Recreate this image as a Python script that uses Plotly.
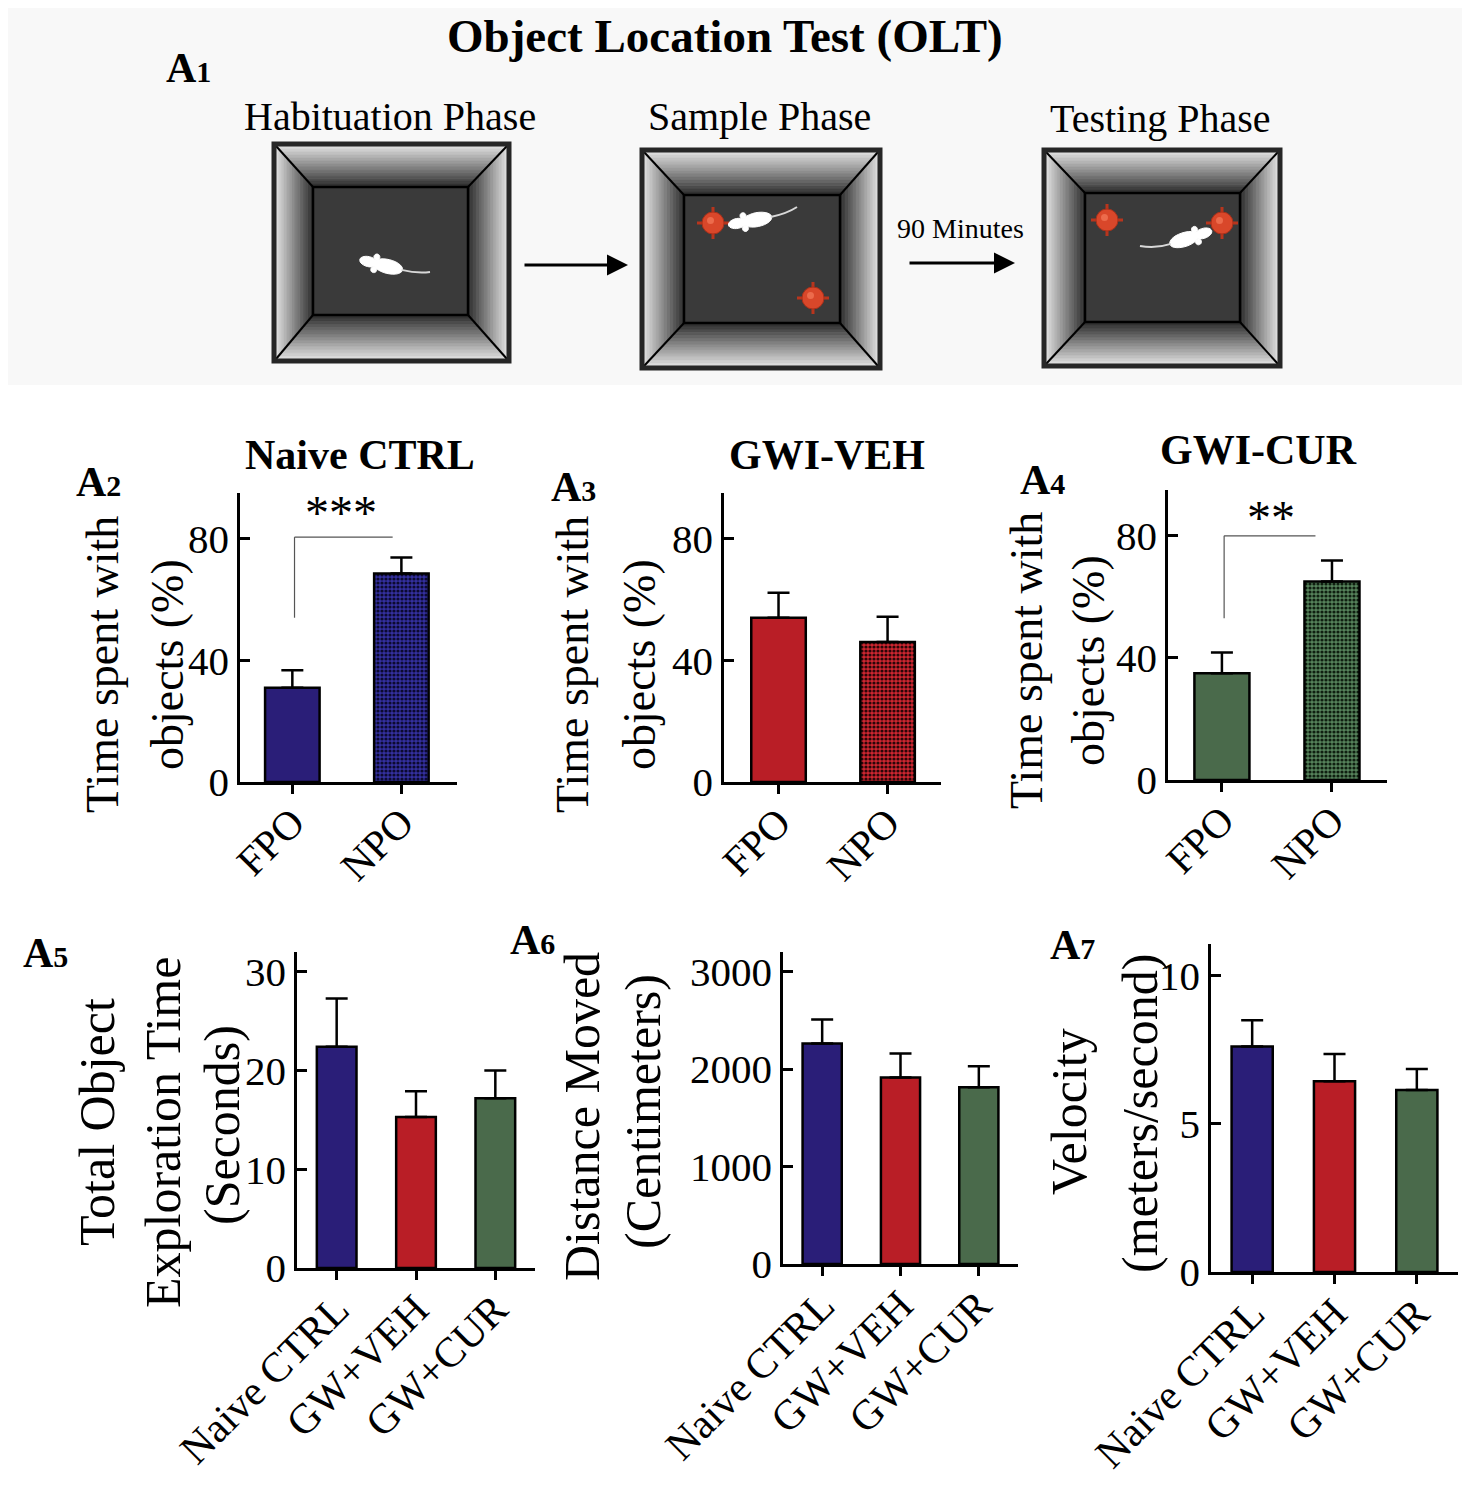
import numpy as np
import plotly.graph_objects as go

W, H = 1475, 1500
OFF = 8  # page margin of the html body
SERIF = "Liberation Serif"

# ---- data ----
phase_labels = ["Habituation Phase", "Sample Phase", "Testing Phase"]

place_cats = ["FPO", "NPO"]
naive_place_mean = [31.0, 68.5]
naive_place_sem = [5.7, 5.3]
veh_place_mean = [54.0, 46.0]
veh_place_sem = [8.2, 8.3]
cur_place_mean = [35.0, 65.0]
cur_place_sem = [6.8, 6.9]

group_cats = ["Naive CTRL", "GW+VEH", "GW+CUR"]
explore_mean = [22.4, 15.3, 17.2]
explore_sem = [4.9, 2.6, 2.8]
distance_mean = [2262, 1914, 1812]
distance_sem = [246, 246, 215]
velocity_mean = [7.6, 6.43, 6.13]
velocity_sem = [0.88, 0.91, 0.71]

NAVY = "#2a1e78"
RED = "#b91e26"
GREEN = "#4a6a4b"


def px(x):
    return (x - OFF) / W


def py(y):
    return 1 - (y - OFF) / H


# colors: (fill, dot colour or None for a plain bar)
panels = [
    dict(cats=place_cats, mean=naive_place_mean, sem=naive_place_sem,
         fills=[(NAVY, None), ("#3430a0", "#0c0a30")],
         xdom=(240, 457), ydom=(493, 782), yrange=[0, 95], yticks=[0, 40, 80],
         xrange=[-0.48, 1.51], tick=41),
    dict(cats=place_cats, mean=veh_place_mean, sem=veh_place_sem,
         fills=[(RED, None), ("#cf2630", "#2a0608")],
         xdom=(724, 941), ydom=(493, 782), yrange=[0, 95], yticks=[0, 40, 80],
         xrange=[-0.5, 1.49], tick=41),
    dict(cats=place_cats, mean=cur_place_mean, sem=cur_place_sem,
         fills=[(GREEN, None), ("#56825b", "#0f1f10")],
         xdom=(1168, 1387), ydom=(490, 780), yrange=[0, 95], yticks=[0, 40, 80],
         xrange=[-0.49, 1.5], tick=41),
    dict(cats=group_cats, mean=explore_mean, sem=explore_sem,
         fills=[(NAVY, None), (RED, None), (GREEN, None)],
         xdom=(297, 535), ydom=(952, 1268), yrange=[0, 32], yticks=[0, 10, 20, 30],
         xrange=[-0.5, 2.5], tick=42),
    dict(cats=group_cats, mean=distance_mean, sem=distance_sem,
         fills=[(NAVY, None), (RED, None), (GREEN, None)],
         xdom=(783, 1018), ydom=(952, 1264), yrange=[0, 3200], yticks=[0, 1000, 2000, 3000],
         xrange=[-0.5, 2.5], tick=42),
    dict(cats=group_cats, mean=velocity_mean, sem=velocity_sem,
         fills=[(NAVY, None), (RED, None), (GREEN, None)],
         xdom=(1211, 1458), ydom=(944, 1272), yrange=[0, 11.05], yticks=[0, 5, 10],
         xrange=[-0.5, 2.5], tick=42),
]

fig = go.Figure()
layout = {}

for i, p in enumerate(panels, start=1):
    s = "" if i == 1 else str(i)
    xa, ya = "x" + s, "y" + s
    for cat, m, e, (fill, dots) in zip(p["cats"], p["mean"], p["sem"], p["fills"]):
        marker = dict(color=fill, line=dict(color="black", width=2.5))
        if dots:
            marker["pattern"] = dict(shape=".", fillmode="overlay", fgcolor=dots,
                                     fgopacity=1, size=4, solidity=0.5)
        fig.add_trace(go.Bar(
            x=[cat], y=[m], xaxis=xa, yaxis=ya, width=0.5, showlegend=False, marker=marker,
            error_y=dict(type="data", symmetric=False, array=[e], arrayminus=[0],
                         color="black", thickness=2.5, width=11),
        ))
    layout["xaxis" + s] = dict(
        domain=[px(p["xdom"][0]), px(p["xdom"][1])], anchor=ya, type="category",
        categoryorder="array", categoryarray=p["cats"],
        range=p["xrange"], showline=True, linecolor="black", linewidth=2.5,
        ticks="outside", ticklen=9, tickwidth=2.5, tickcolor="black", tickangle=-45,
        ticklabelstandoff=-12,
        showgrid=False, zeroline=False, automargin=False,
        tickfont=dict(family=SERIF, size=p["tick"], color="black"))
    layout["yaxis" + s] = dict(
        domain=[py(p["ydom"][1]), py(p["ydom"][0])], anchor=xa,
        range=p["yrange"], tickvals=p["yticks"], showline=True, linecolor="black",
        linewidth=2.5, ticks="inside", ticklen=10, tickwidth=2.5, tickcolor="black",
        showgrid=False, zeroline=False, automargin=False,
        tickfont=dict(family=SERIF, size=41, color="black"))

# schematic axes in page-pixel units for panel A1
layout["xaxis7"] = dict(domain=[0, 1], range=[OFF, W + OFF], visible=False, anchor="y7",
                        automargin=False)
layout["yaxis7"] = dict(domain=[1 - 390 / H, 1], range=[390 + OFF, OFF], visible=False,
                        anchor="x7", automargin=False)

shapes = []
annotations = []

# faint background for A1
shapes.append(dict(type="rect", xref="x7", yref="y7", x0=0, y0=0, x1=1462, y1=385,
                   fillcolor="#f8f8f8", line=dict(width=0), layer="below"))

boxes = [
    ((272, 142, 511, 363), (313, 187, 468, 315)),
    ((640, 148, 882, 370), (684, 195, 840, 323)),
    ((1042, 148, 1282, 368), (1085, 193, 1240, 322)),
]
LIGHT = np.array([226, 226, 226])
DARK = np.array([44, 44, 44])
NBANDS = 14


def lerp(p, q, f):
    return (p[0] + (q[0] - p[0]) * f, p[1] + (q[1] - p[1]) * f)


def poly_path(pts):
    return "M " + " L ".join(f"{a:.1f},{b:.1f}" for a, b in pts) + " Z"


def wall(p0, p1, q0, q1):
    # p0-p1 outer edge, q0-q1 inner edge, shaded light -> dark
    for k in range(NBANDS):
        f0, f1 = k / NBANDS, (k + 1) / NBANDS
        c = LIGHT + (DARK - LIGHT) * (k + 0.5) / NBANDS
        pts = [lerp(p0, q0, f0), lerp(p1, q1, f0), lerp(p1, q1, f1), lerp(p0, q0, f1)]
        col = "rgb({},{},{})".format(*[int(v) for v in c])
        shapes.append(dict(type="path", xref="x7", yref="y7", path=poly_path(pts),
                           fillcolor=col, line=dict(color=col, width=0.6), layer="above"))


for (x0, y0, x1, y1), (ix0, iy0, ix1, iy1) in boxes:
    o = 4
    ox0, oy0, ox1, oy1 = x0 + o, y0 + o, x1 - o, y1 - o
    wall((ox0, oy0), (ox1, oy0), (ix0, iy0), (ix1, iy0))
    wall((ox0, oy1), (ox1, oy1), (ix0, iy1), (ix1, iy1))
    wall((ox0, oy0), (ox0, oy1), (ix0, iy0), (ix0, iy1))
    wall((ox1, oy0), (ox1, oy1), (ix1, iy0), (ix1, iy1))
    shapes.append(dict(type="rect", xref="x7", yref="y7", x0=ix0, y0=iy0, x1=ix1, y1=iy1,
                       fillcolor="#3a3a3a", line=dict(color="black", width=2.5), layer="above"))
    for (ax_, ay_), (bx_, by_) in [((ox0, oy0), (ix0, iy0)), ((ox1, oy0), (ix1, iy0)),
                                   ((ox0, oy1), (ix0, iy1)), ((ox1, oy1), (ix1, iy1))]:
        shapes.append(dict(type="line", xref="x7", yref="y7", x0=ax_, y0=ay_, x1=bx_, y1=by_,
                           line=dict(color="black", width=2), layer="above"))
    shapes.append(dict(type="rect", xref="x7", yref="y7", x0=x0 + 2, y0=y0 + 2, x1=x1 - 2, y1=y1 - 2,
                       line=dict(color="#262626", width=5), layer="above"))


def mouse(cx, cy, ang, tail_end):
    a = np.radians(ang)
    ca, sa = np.cos(a), np.sin(a)

    def tr(u, v):
        return [(cx + uu * ca - vv * sa, cy + uu * sa + vv * ca) for uu, vv in zip(u, v)]

    t = np.linspace(0, 2 * np.pi, 28, endpoint=False)
    body = tr(15 * np.cos(t) - 2, 7 * np.sin(t))
    head = tr(18 + 9 * np.cos(t), 5 * np.sin(t))
    ear1 = tr(11 + 3 * np.cos(t), -6.5 + 3 * np.sin(t))
    ear2 = tr(11 + 3 * np.cos(t), 6.5 + 3 * np.sin(t))
    for pts in (body, head, ear1, ear2):
        shapes.append(dict(type="path", xref="x7", yref="y7", path=poly_path(pts),
                           fillcolor="white", line=dict(color="white", width=1), layer="above"))
    rx, ry = cx - 16 * ca, cy - 16 * sa
    qx, qy = cx - 32 * ca, cy - 32 * sa
    shapes.append(dict(type="path", xref="x7", yref="y7",
                       path=f"M {rx:.1f},{ry:.1f} Q {qx:.1f},{qy:.1f} {tail_end[0]},{tail_end[1]}",
                       line=dict(color="#d8d8d8", width=2), layer="above"))


def target(x, y):
    shapes.append(dict(type="line", xref="x7", yref="y7", x0=x - 16, y0=y, x1=x + 16, y1=y,
                       line=dict(color="#b8351d", width=3), layer="above"))
    shapes.append(dict(type="line", xref="x7", yref="y7", x0=x, y0=y - 16, x1=x, y1=y + 16,
                       line=dict(color="#b8351d", width=3), layer="above"))
    shapes.append(dict(type="circle", xref="x7", yref="y7", x0=x - 11, y0=y - 11, x1=x + 11, y1=y + 11,
                       fillcolor="#d9472a", line=dict(color="#a8301a", width=1), layer="above"))
    shapes.append(dict(type="circle", xref="x7", yref="y7", x0=x - 6, y0=y - 6, x1=x + 1, y1=y + 1,
                       fillcolor="#ec6b4c", line=dict(width=0), layer="above"))


mouse(386, 266, -166, (430, 272))
target(713, 223)
target(813, 298)
mouse(755, 220, 169, (797, 207))
target(1107, 220)
target(1222, 223)
mouse(1186, 239, -18, (1140, 246))

for x0_, x1_, yy in [(523, 628, 265), (908, 1015, 263)]:
    annotations.append(dict(x=x1_, y=yy, ax=x0_, ay=yy, xref="x7", yref="y7", axref="x7",
                            ayref="y7", text="", showarrow=True, arrowhead=2, arrowsize=1.4,
                            arrowwidth=3, arrowcolor="black"))


def text(x, y, s, size, bold=False, angle=0):
    annotations.append(dict(x=px(x), y=py(y), xref="paper", yref="paper",
                            text=f"<b>{s}</b>" if bold else s, showarrow=False,
                            textangle=angle, xanchor="center", yanchor="middle",
                            font=dict(family=SERIF, size=size, color="black")))


def letter(x, y, n):
    annotations.append(dict(x=px(x), y=py(y), xref="paper", yref="paper", showarrow=False,
                            text=f"<b>A<span style='font-size:30px'>{n}</span></b>",
                            xanchor="center", yanchor="middle",
                            font=dict(family=SERIF, size=42, color="black")))


# main title, kept inside the top edge
annotations.append(dict(x=px(725), y=1, xref="paper", yref="paper", yanchor="top",
                        xanchor="center", showarrow=False,
                        text="<b>Object Location Test (OLT)</b>",
                        font=dict(family=SERIF, size=47, color="black")))
letter(188, 68, 1)
for (lx, ly), lab in zip([(390, 117), (760, 117), (1160, 118)], phase_labels):
    text(lx, ly, lab, 40)
text(960, 228, "90 Minutes", 28)

# A2-A4
text(360, 455, "Naive CTRL", 42, bold=True)
text(827, 455, "GWI-VEH", 42, bold=True)
text(1258, 450, "GWI-CUR", 42, bold=True)
letter(98, 482, 2)
letter(573, 487, 3)
letter(1042, 480, 4)
for (x1_, x2_), yc in [((103, 168), 665), ((573, 640), 665), ((1026, 1088), 661)]:
    text(x1_, yc, "Time spent with", 46, angle=-90)
    text(x2_, yc, "objects (%)", 46, angle=-90)

# significance brackets (A2, A4)
for ax_name, x_end, y_low, y_br, stars, y_st in [("", 0.92, 54, 80.5, "***", 88.5),
                                                  ("3", 0.85, 53, 80, "**", 86)]:
    xr, yr = "x" + ax_name, "y" + ax_name
    shapes.append(dict(type="line", xref=xr, yref=yr, x0=0.02, x1=0.02, y0=y_low, y1=y_br,
                       line=dict(color="#555555", width=1.2)))
    shapes.append(dict(type="line", xref=xr, yref=yr, x0=0.02, x1=x_end, y0=y_br, y1=y_br,
                       line=dict(color="#555555", width=1.2)))
    annotations.append(dict(x=0.45, y=y_st, xref=xr, yref=yr, text=stars, showarrow=False,
                            xanchor="center", yanchor="middle",
                            font=dict(family=SERIF, size=48, color="black")))

# A5-A7
letter(45, 953, 5)
letter(532, 940, 6)
letter(1072, 945, 7)
text(97, 1122, "Total Object", 50, angle=-90)
text(163, 1133, "Exploration Time", 50, angle=-90)
text(222, 1125, "(Seconds)", 50, angle=-90)
text(582, 1117, "Distance Moved", 50, angle=-90)
text(643, 1112, "(Centimeters)", 50, angle=-90)
text(1069, 1112, "Velocity", 50, angle=-90)
text(1140, 1114, "(meters/second)", 50, angle=-90)

fig.update_layout(
    width=W, height=H, margin=dict(l=0, r=0, t=0, b=0, autoexpand=False),
    paper_bgcolor="white", plot_bgcolor="rgba(0,0,0,0)",
    font=dict(family=SERIF, color="black"), barmode="overlay",
    shapes=shapes, annotations=annotations, **layout)

fig.write_html("out.html")
